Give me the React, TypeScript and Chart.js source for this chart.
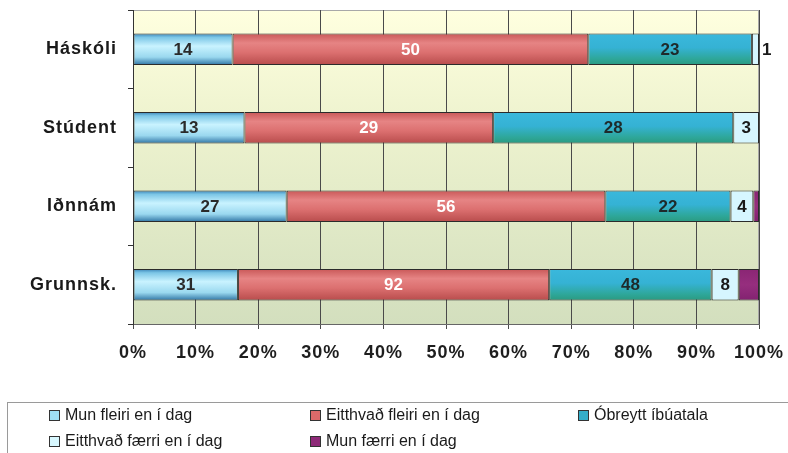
import React, { useEffect, useRef } from "react";
import { Chart, registerables } from "chart.js";

Chart.register(...registerables);

const categories = ["Háskóli", "Stúdent", "Iðnnám", "Grunnsk."];
const seriesNames = [
  "Mun fleiri en í dag",
  "Eitthvað fleiri en í dag",
  "Óbreytt íbúatala",
  "Eitthvað færri en í dag",
  "Mun færri en í dag",
];
const munFleiri = [14, 13, 27, 31];
const eitthvadFleiri = [50, 29, 56, 92];
const obreytt = [23, 28, 22, 48];
const eitthvadFaerri = [1, 3, 4, 8];
const munFaerri = [0, 0, 1, 6];
const xTicks = [0, 10, 20, 30, 40, 50, 60, 70, 80, 90, 100];

const rawSeries = [munFleiri, eitthvadFleiri, obreytt, eitthvadFaerri, munFaerri];
const flatColors = ["#9fe0f5", "#dc6a6a", "#34aec9", "#d8f8ff", "#8e2a78"];
const labelColors = ["#2a2a2a", "#ffffff", "#1e2a2a", "#1a1a1a", null];
const gradStops: [number, string][][] = [
  [[0, "#3b84b8"], [0.12, "#7cc6e6"], [0.4, "#c9f3ff"], [0.75, "#9ad8ef"], [1, "#2f74a4"]],
  [[0, "#c95858"], [0.3, "#e68484"], [0.6, "#dc7070"], [1, "#b84c4c"]],
  [[0, "#3ab8dc"], [0.45, "#35b2d4"], [0.8, "#2ea79a"], [1, "#2a9a80"]],
  [[0, "#d6f6ff"], [1, "#d6f6ff"]],
  [[0, "#8a2674"], [0.5, "#962e7e"], [1, "#822270"]],
];

const FONT = "'Liberation Sans', Arial, sans-serif";
const BAR_FRACTION = 0.4;

const totals = categories.map((_, i) => rawSeries.reduce((s, a) => s + a[i], 0));

const bgPlugin = {
  id: "plotBg",
  beforeDraw(chart: any) {
    const { ctx, chartArea: a } = chart;
    (ctx as any).letterSpacing = "1px";
    const g = ctx.createLinearGradient(0, a.top, 0, a.bottom);
    g.addColorStop(0, "#ffffdf");
    g.addColorStop(0.35, "#eef3cf");
    g.addColorStop(1, "#d3dfbe");
    ctx.save();
    ctx.fillStyle = g;
    ctx.fillRect(a.left, a.top, a.right - a.left, a.bottom - a.top);
    ctx.strokeStyle = "#a8a8a8";
    ctx.lineWidth = 1;
    ctx.strokeRect(a.left + 0.5, a.top + 0.5, a.right - a.left - 1, a.bottom - a.top);
    ctx.restore();
  },
};

const labelPlugin = {
  id: "valueLabels",
  afterDatasetsDraw(chart: any) {
    const ctx = chart.ctx;
    ctx.save();
    (ctx as any).letterSpacing = "0px";
    ctx.font = `bold 17px ${FONT}`;
    ctx.textBaseline = "middle";
    chart.data.datasets.forEach((ds: any, di: number) => {
      const color = labelColors[di];
      if (!color) return;
      const meta = chart.getDatasetMeta(di);
      meta.data.forEach((el: any, i: number) => {
        const v = rawSeries[di][i];
        if (!v) return;
        const text = String(v);
        const w = ctx.measureText(text).width;
        const left = Math.min(el.base, el.x);
        const right = Math.max(el.base, el.x);
        if (right - left < w + 2) {
          ctx.fillStyle = "#1a1a1a";
          ctx.textAlign = "left";
          ctx.fillText(text, right + 3, el.y + 1);
        } else {
          ctx.fillStyle = color;
          ctx.textAlign = "center";
          ctx.fillText(text, (left + right) / 2, el.y + 1);
        }
      });
    });
    ctx.restore();
  },
};

function makeBg(di: number) {
  return (c: any) => {
    const chart = c.chart;
    const ys = chart.scales && chart.scales.y;
    if (c.type !== "data" || !ys || !chart.chartArea) return flatColors[di];
    const center = ys.getPixelForValue(c.dataIndex);
    const band = Math.abs(ys.getPixelForValue(1) - ys.getPixelForValue(0));
    if (!isFinite(center) || !isFinite(band) || band === 0) return flatColors[di];
    const half = (band * BAR_FRACTION) / 2;
    const g = chart.ctx.createLinearGradient(0, center - half, 0, center + half);
    gradStops[di].forEach(([o, col]) => g.addColorStop(o, col));
    return g;
  };
}

export default function App() {
  const ref = useRef<HTMLCanvasElement | null>(null);

  useEffect(() => {
    document.body.style.margin = "0";
    if (!ref.current) return;
    const datasets = rawSeries.map((arr, di) => ({
      label: seriesNames[di],
      data: arr.map((v, i) => (v / totals[i]) * 100),
      backgroundColor: makeBg(di),
      borderColor: "#2b2b2b",
      borderWidth: 1,
      borderSkipped: false,
      categoryPercentage: 0.8,
      barPercentage: 0.5,
    }));
    const chart = new Chart(ref.current, {
      type: "bar",
      data: { labels: categories, datasets },
      plugins: [bgPlugin, labelPlugin],
      options: {
        indexAxis: "y",
        animation: false,
        responsive: false,
        maintainAspectRatio: false,
        layout: { padding: { top: 10, right: 29, left: 0, bottom: 89 } },
        plugins: {
          legend: { display: false },
          tooltip: { enabled: false },
          title: { display: false },
        },
        scales: {
          x: {
            stacked: true,
            min: 0,
            max: 100,
            afterBuildTicks: (s: any) => {
              s.ticks = xTicks.map((v) => ({ value: v }));
            },
            afterFit: (s: any) => {
              s.height = 40;
              s.paddingLeft = 0;
              s.paddingRight = 0;
            },
            grid: {
              color: "#4a4a4a",
              lineWidth: 1,
              tickLength: 5,
              drawTicks: true,
            },
            border: { color: "#666666", width: 1 },
            ticks: {
              padding: 13,
              color: "#1e1e1e",
              font: { family: FONT, size: 18, weight: "bold" },
              callback: (v: any) => `${v}%`,
              maxRotation: 0,
            },
          },
          y: {
            stacked: true,
            afterFit: (s: any) => {
              s.width = 133;
              s.paddingTop = 0;
              s.paddingBottom = 0;
            },
            grid: {
              display: true,
              drawOnChartArea: false,
              offset: true,
              tickLength: 5,
              color: "#333333",
            },
            border: { color: "#333333", width: 1 },
            ticks: {
              padding: 11,
              color: "#1a1a1a",
              font: { family: FONT, size: 18, weight: "bold" },
            },
          },
        },
      } as any,
    });
    return () => chart.destroy();
  }, []);

  const legendPos = [
    { x: 49, y: 415 },
    { x: 310, y: 415 },
    { x: 578, y: 415 },
    { x: 49, y: 441 },
    { x: 310, y: 441 },
  ];

  return (
    <div style={{ position: "relative", width: 788, height: 453, overflow: "hidden", background: "#ffffff" }}>
      <canvas ref={ref} width={788} height={453} style={{ position: "absolute", left: 0, top: 0, width: 788, height: 453 }} />
      <div
        style={{
          position: "absolute",
          left: 7,
          top: 402,
          width: 800,
          height: 70,
          border: "1px solid #9a9a9a",
          boxSizing: "border-box",
        }}
      />
      {seriesNames.map((name, i) => (
        <div
          key={name}
          style={{
            position: "absolute",
            left: legendPos[i].x,
            top: legendPos[i].y - 10,
            height: 20,
            display: "flex",
            alignItems: "center",
            fontFamily: FONT,
            fontSize: 16,
            color: "#1a1a1a",
            whiteSpace: "nowrap",
          }}
        >
          <span
            style={{
              display: "inline-block",
              width: 9,
              height: 9,
              border: "1px solid #333",
              background: flatColors[i],
              marginRight: 5,
            }}
          />
          {name}
        </div>
      ))}
    </div>
  );
}
